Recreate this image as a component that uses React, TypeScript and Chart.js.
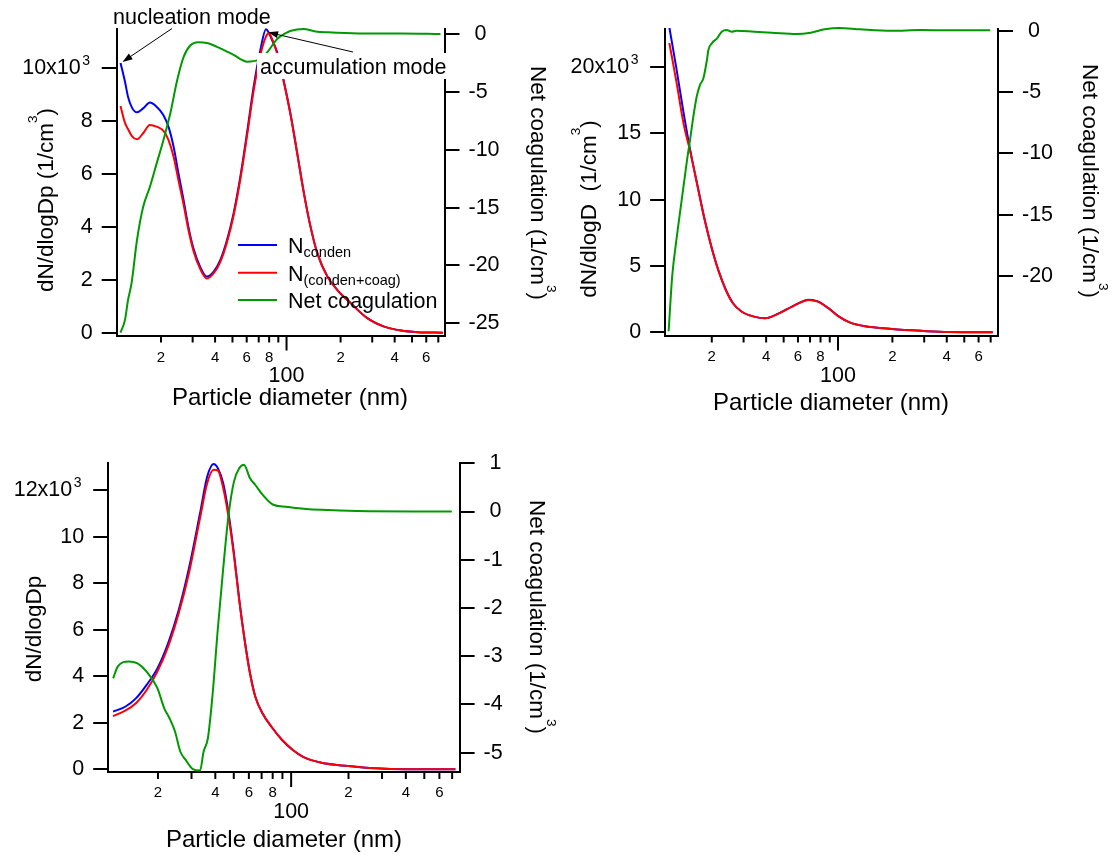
import React, { useEffect, useRef } from 'react';
import { Chart, registerables } from 'chart.js';

Chart.register(...registerables);

const FONT = '"Liberation Sans", Arial, Helvetica, sans-serif';
const BLUE = '#0000ff';
const RED = '#ff0000';
const GREEN = '#009900';
const TICK_FONT = 21.5;
const SMALL_FONT = 15;
const SUP_FONT = 14;
const YTITLE_FONT = 22.5;
const XTITLE_FONT = 24;
const SUP_PAD = '\u00a0\u00a0';

// ---------- shared x axis ticks ----------
const X_TICKS = [20, 30, 40, 50, 60, 70, 80, 90, 100, 200, 300, 400, 500, 600, 700];
const X_TICK_LABELS = ['2', '', '4', '', '6', '', '8', '', '100', '2', '', '4', '', '6', ''];

// ---------- panel 1 ----------
const P1_DIAM = [11.9, 12.6, 13.1, 13.8, 14.7, 15.9, 17.35, 18.9, 20.6, 22.0, 23.5, 25.0, 26.7, 28.4, 30.3, 33.0, 36.0, 39.3, 42.8, 46.6, 50.7, 55.3, 60.2, 65.6, 71.5, 76.9, 79.5, 83.2, 88.7, 96.6, 105.3, 114.7, 125, 136, 148.5, 169, 192, 228, 283, 350, 434, 538, 742];
const P1_CONDEN = [10200, 9490, 8920, 8500, 8330, 8480, 8700, 8540, 8230, 7790, 7030, 6030, 5020, 4010, 3190, 2500, 2120, 2310, 2750, 3500, 4510, 5900, 7540, 9300, 10690, 11470, 11350, 11050, 10600, 9500, 8250, 6780, 5270, 4010, 3000, 2120, 1610, 1110, 540, 230, 80, 20, 0];
const P1_CONDEN_COAG = [8570, 7930, 7700, 7420, 7310, 7540, 7850, 7790, 7640, 7290, 6650, 5770, 4850, 3900, 3100, 2420, 2050, 2250, 2680, 3420, 4420, 5800, 7420, 9150, 10500, 11200, 11320, 11100, 10550, 9480, 8250, 6780, 5270, 4010, 3000, 2120, 1610, 1110, 540, 230, 80, 20, 0];
const P1_NET_DIAM = [11.9, 12.6, 13.1, 13.7, 14.7, 15.9, 17.35, 18.9, 20.6, 22.5, 24.6, 26.7, 29.1, 32.2, 36, 42.8, 50.7, 60.2, 70, 78, 88.7, 98.5, 106, 124, 145, 170, 252, 434, 720];
const P1_NET = [-25.8, -24.7, -23.0, -21.55, -17.8, -14.95, -13.2, -11.2, -9.2, -6.9, -4.0, -2.0, -1.0, -0.72, -0.78, -1.24, -1.81, -2.39, -2.24, -1.59, -0.43, 0.05, 0.28, 0.43, 0.22, 0.14, 0.05, 0.05, 0.0];
const P1_LEFT_TICKS = [0, 2000, 4000, 6000, 8000, 10000];
const P1_LEFT_LABELS = ['0', '2', '4', '6', '8', '10x10' + SUP_PAD];
const P1_RIGHT_TICKS = [-25, -20, -15, -10, -5, 0];
const P1_RIGHT_LABELS = ['-25', '-20', '-15', '-10', '-5', '\u00a00'];

// ---------- panel 2 ----------
const P2_DIAM = [11.64, 12.74, 13.94, 15.26, 16.7, 18.27, 20.0, 21.88, 23.94, 26.2, 29.33, 34.34, 39.29, 47.08, 56.34, 69.0, 77.25, 88.42, 101.2, 115.9, 138.7, 199, 298.5, 409, 718.8];
const P2_CONDEN = [23000, 19900, 16600, 13600, 11000, 8480, 6340, 4570, 3190, 2190, 1550, 1180, 1060, 1430, 1980, 2460, 2330, 1820, 1180, 750, 480, 250, 100, 20, 0];
const P2_CONDEN_COAG = [21810, 18900, 15770, 13510, 10990, 8480, 6340, 4570, 3190, 2190, 1550, 1180, 1060, 1430, 1980, 2440, 2310, 1810, 1180, 750, 480, 250, 100, 20, 0];
const P2_NET_DIAM = [11.54, 12.07, 12.74, 13.63, 14.59, 15.16, 15.81, 16.5, 17.19, 17.97, 18.8, 19.15, 20.0, 21.4, 22.7, 24.2, 25.8, 27.4, 34.3, 43.0, 58.9, 70.6, 84.5, 101.2, 132.7, 199, 285, 409, 696];
const P2_NET = [-24.5, -20.05, -17.06, -13.8, -10.54, -8.9, -7.0, -5.38, -4.43, -3.88, -2.39, -1.57, -1.03, -0.62, -0.08, 0.06, -0.08, 0.0, -0.08, -0.16, -0.27, -0.16, 0.11, 0.22, 0.11, 0.0, 0.05, 0.03, 0.03];
const P2_LEFT_TICKS = [0, 5000, 10000, 15000, 20000];
const P2_LEFT_LABELS = ['0', '5', '10', '15', '20x10' + SUP_PAD];
const P2_RIGHT_TICKS = [-20, -15, -10, -5, 0];
const P2_RIGHT_LABELS = ['-20', '-15', '-10', '-5', '\u00a00'];

// ---------- panel 3 ----------
const P3_DIAM = [11.63, 13.46, 15.32, 17.44, 19.86, 22.6, 25.7, 29.2, 33.25, 36.25, 39.17, 41.25, 44.0, 46.95, 50.1, 53.45, 57.03, 60.84, 64.9, 70.76, 78.84, 89.7, 102.1, 116.3, 144.3, 199.4, 275.7, 399.6, 728];
const P3_CONDEN = [2480, 2690, 3050, 3630, 4340, 5420, 6850, 8710, 11010, 12580, 13130, 12950, 12300, 11010, 9290, 7280, 5560, 4130, 3120, 2410, 1830, 1260, 830, 520, 280, 140, 40, 0, 0];
const P3_CONDEN_COAG = [2290, 2520, 2840, 3410, 4200, 5270, 6710, 8500, 10800, 12300, 12880, 12850, 12100, 10850, 9200, 7250, 5540, 4120, 3110, 2400, 1830, 1260, 830, 520, 280, 140, 40, 0, 0];
const P3_NET_DIAM = [11.63, 12.32, 14.02, 15.62, 17.44, 19.86, 21.58, 23.03, 24.57, 26.22, 27.97, 30.47, 33.25, 34.7, 36.56, 38.68, 41.25, 44.0, 46.95, 50.1, 53.45, 56.53, 60.84, 64.9, 70.76, 80.56, 93.7, 116.3, 144.3, 222, 697];
const P3_NET = [-3.46, -3.21, -3.11, -3.15, -3.32, -3.66, -4.08, -4.29, -4.56, -4.98, -5.15, -5.34, -5.37, -4.98, -4.7, -3.8, -2.42, -1.18, -0.07, 0.62, 0.9, 0.97, 0.69, 0.55, 0.35, 0.14, 0.1, 0.06, 0.035, 0.01, 0.0];
const P3_LEFT_TICKS = [0, 2000, 4000, 6000, 8000, 10000, 12000];
const P3_LEFT_LABELS = ['0', '2', '4', '6', '8', '10', '12x10' + SUP_PAD];
const P3_RIGHT_TICKS = [-5, -4, -3, -2, -1, 0, 1];
const P3_RIGHT_LABELS = ['-5', '-4', '-3', '-2', '-1', '\u00a00', '\u00a01'];

type Series = { d: number[]; v: number[]; color: string; axis: 'y' | 'y2'; order: number; clipTop?: number };
type Part = { t: string; size: number; dy?: number };

interface PanelSpec {
  canvas: { left: number; top: number; width: number; height: number };
  area: { left: number; right: number; top: number; bottom: number };
  xRange: [number, number];
  yRange: [number, number];
  y2Range: [number, number];
  yTicks: number[];
  yLabels: string[];
  ySupTick: number;
  y2Ticks: number[];
  y2Labels: string[];
  series: Series[];
  yTitle: { prefix: string; unit: boolean; x: number; y: number };
  y2Title: { x: number; y: number };
  xTitle: { x: number; y: number };
  smallDy: number;
  bigDy: number;
  legend?: boolean;
  annotations?: boolean;
}

const PANELS: PanelSpec[] = [
  {
    canvas: { left: 0, top: 0, width: 560, height: 430 },
    area: { left: 116.7, right: 444.5, top: 29, bottom: 335.5 },
    xRange: [11.33, 758],
    yRange: [-106, 11482],
    y2Range: [-26.05, 0.43],
    yTicks: P1_LEFT_TICKS,
    yLabels: P1_LEFT_LABELS,
    ySupTick: 10000,
    y2Ticks: P1_RIGHT_TICKS,
    y2Labels: P1_RIGHT_LABELS,
    series: [
      { d: P1_DIAM, v: P1_CONDEN, color: BLUE, axis: 'y', order: 2 },
      { d: P1_DIAM, v: P1_CONDEN_COAG, color: RED, axis: 'y', order: 1 },
      { d: P1_NET_DIAM, v: P1_NET, color: GREEN, axis: 'y2', order: 0, clipTop: 4 },
    ],
    yTitle: { prefix: 'dN/dlogDp (1/cm', unit: true, x: 45, y: 200 },
    y2Title: { x: 539, y: 183 },
    xTitle: { x: 290, y: 398 },
    smallDy: 22,
    bigDy: 41,
    legend: true,
    annotations: true,
  },
  {
    canvas: { left: 560, top: 0, width: 554, height: 430 },
    area: { left: 105.1, right: 438, top: 29, bottom: 335.5 },
    xRange: [11.03, 768.6],
    yRange: [-241, 22865],
    y2Range: [-24.85, 0.139],
    yTicks: P2_LEFT_TICKS,
    yLabels: P2_LEFT_LABELS,
    ySupTick: 20000,
    y2Ticks: P2_RIGHT_TICKS,
    y2Labels: P2_RIGHT_LABELS,
    series: [
      { d: P2_DIAM, v: P2_CONDEN, color: BLUE, axis: 'y', order: 2 },
      { d: P2_DIAM, v: P2_CONDEN_COAG, color: RED, axis: 'y', order: 1 },
      { d: P2_NET_DIAM, v: P2_NET, color: GREEN, axis: 'y2', order: 0, clipTop: 4 },
    ],
    yTitle: { prefix: 'dN/dlogD  (1/cm', unit: true, x: 28, y: 209 },
    y2Title: { x: 531, y: 181 },
    xTitle: { x: 271, y: 403 },
    smallDy: 21.5,
    bigDy: 41,
  },
  {
    canvas: { left: 0, top: 430, width: 560, height: 425 },
    area: { left: 108.2, right: 459.6, top: 33.3, bottom: 342 },
    xRange: [10.96, 766],
    yRange: [-116, 13160],
    y2Range: [-5.4, 1.0],
    yTicks: P3_LEFT_TICKS,
    yLabels: P3_LEFT_LABELS,
    ySupTick: 12000,
    y2Ticks: P3_RIGHT_TICKS,
    y2Labels: P3_RIGHT_LABELS,
    series: [
      { d: P3_DIAM, v: P3_CONDEN, color: BLUE, axis: 'y', order: 2 },
      { d: P3_DIAM, v: P3_CONDEN_COAG, color: RED, axis: 'y', order: 1 },
      { d: P3_NET_DIAM, v: P3_NET, color: GREEN, axis: 'y2', order: 0, clipTop: 4 },
    ],
    yTitle: { prefix: 'dN/dlogDp', unit: false, x: 33, y: 199 },
    y2Title: { x: 538.4, y: 187 },
    xTitle: { x: 284, y: 410 },
    smallDy: 21,
    bigDy: 40,
  },
];

// legend layout (panel 1)
const LEGEND = {
  x0: 238,
  x1: 277,
  tx: 288,
  items: [
    { color: BLUE, main: 'N', sub: 'conden', lineY: 245, base: 253 },
    { color: RED, main: 'N', sub: '(conden+coag)', lineY: 272.7, base: 281 },
    { color: GREEN, main: 'Net coagulation', sub: '', lineY: 300, base: 308 },
  ],
};

function richWidth(ctx: CanvasRenderingContext2D, parts: Part[]) {
  let w = 0;
  for (const p of parts) {
    ctx.font = `${p.size}px ${FONT}`;
    w += ctx.measureText(p.t).width;
  }
  return w;
}

function drawRich(ctx: CanvasRenderingContext2D, parts: Part[], x: number, y: number, align: 'left' | 'center') {
  let cx = align === 'center' ? x - richWidth(ctx, parts) / 2 : x;
  ctx.textAlign = 'left';
  ctx.textBaseline = 'alphabetic';
  for (const p of parts) {
    ctx.font = `${p.size}px ${FONT}`;
    ctx.fillText(p.t, cx, y + (p.dy || 0));
    cx += ctx.measureText(p.t).width;
  }
}

function unitParts(prefix: string, size: number): Part[] {
  return [
    { t: prefix, size },
    { t: '3', size: size * 0.6, dy: -size * 0.72 },
    { t: ')', size },
  ];
}

function drawRotated(ctx: CanvasRenderingContext2D, parts: Part[], cx: number, cy: number, angle: number, size: number) {
  ctx.save();
  ctx.translate(cx, cy);
  ctx.rotate(angle);
  drawRich(ctx, parts, 0, size * 0.36, 'center');
  ctx.restore();
}

function arrow(ctx: CanvasRenderingContext2D, x0: number, y0: number, x1: number, y1: number) {
  const a = Math.atan2(y1 - y0, x1 - x0);
  const L = 10;
  const W = 3.5;
  ctx.lineWidth = 1;
  ctx.strokeStyle = '#000';
  ctx.fillStyle = '#000';
  ctx.beginPath();
  ctx.moveTo(x0, y0);
  ctx.lineTo(x1 - Math.cos(a) * L * 0.8, y1 - Math.sin(a) * L * 0.8);
  ctx.stroke();
  ctx.beginPath();
  ctx.moveTo(x1, y1);
  ctx.lineTo(x1 - L * Math.cos(a) + W * Math.sin(a), y1 - L * Math.sin(a) - W * Math.cos(a));
  ctx.lineTo(x1 - L * Math.cos(a) - W * Math.sin(a), y1 - L * Math.sin(a) + W * Math.cos(a));
  ctx.closePath();
  ctx.fill();
}

function decorPlugin(spec: PanelSpec) {
  return {
    id: 'decor',
    afterDraw(chart: any) {
      const ctx: CanvasRenderingContext2D = chart.ctx;
      const xs = chart.scales.x;
      const ys = chart.scales.y;
      const area = chart.chartArea;
      ctx.save();
      ctx.fillStyle = '#000';
      ctx.strokeStyle = '#000';
      ctx.lineWidth = 2;
      X_TICKS.forEach((v, i) => {
        const px = xs.getPixelForValue(v);
        const len = v === 100 ? 15 : 7;
        ctx.beginPath();
        ctx.moveTo(px, area.bottom);
        ctx.lineTo(px, area.bottom + len);
        ctx.stroke();
        const lab = X_TICK_LABELS[i];
        if (!lab) return;
        ctx.textAlign = 'center';
        ctx.textBaseline = 'middle';
        if (v === 100) {
          ctx.font = `${TICK_FONT}px ${FONT}`;
          ctx.fillText(lab, px, area.bottom + spec.bigDy);
        } else {
          ctx.font = `${SMALL_FONT}px ${FONT}`;
          ctx.fillText(lab, px, area.bottom + spec.smallDy);
        }
      });

      // superscript exponent of the top left tick label ("x10" + superscript 3)
      ctx.font = `${TICK_FONT}px ${FONT}`;
      const padW = ctx.measureText(SUP_PAD).width;
      const supY = ys.getPixelForValue(spec.ySupTick);
      ctx.font = `${SUP_FONT}px ${FONT}`;
      ctx.textAlign = 'left';
      ctx.textBaseline = 'alphabetic';
      ctx.fillText('3', area.left - 15 - 9 - padW + 1.5, supY - 3);

      // x title
      ctx.font = `${XTITLE_FONT}px ${FONT}`;
      ctx.textAlign = 'center';
      ctx.textBaseline = 'middle';
      ctx.fillText('Particle diameter (nm)', spec.xTitle.x, spec.xTitle.y);
      // y titles
      const yParts: Part[] = spec.yTitle.unit
        ? unitParts(spec.yTitle.prefix, YTITLE_FONT)
        : [{ t: spec.yTitle.prefix, size: YTITLE_FONT }];
      drawRotated(ctx, yParts, spec.yTitle.x, spec.yTitle.y, -Math.PI / 2, YTITLE_FONT);
      drawRotated(ctx, unitParts('Net coagulation (1/cm', YTITLE_FONT), spec.y2Title.x, spec.y2Title.y, Math.PI / 2, YTITLE_FONT);

      if (spec.legend) {
        LEGEND.items.forEach((it) => {
          ctx.strokeStyle = it.color;
          ctx.lineWidth = 2;
          ctx.beginPath();
          ctx.moveTo(LEGEND.x0, it.lineY);
          ctx.lineTo(LEGEND.x1, it.lineY);
          ctx.stroke();
          ctx.fillStyle = '#000';
          const parts: Part[] = [{ t: it.main, size: TICK_FONT }];
          if (it.sub) parts.push({ t: it.sub, size: 14.5, dy: 4 });
          drawRich(ctx, parts, LEGEND.tx, it.base, 'left');
        });
      }

      if (spec.annotations) {
        ctx.fillStyle = '#fff';
        ctx.fillRect(257, 53, 195, 26);
        ctx.fillStyle = '#000';
        ctx.font = `${TICK_FONT}px ${FONT}`;
        ctx.textAlign = 'left';
        ctx.textBaseline = 'alphabetic';
        ctx.fillText('nucleation mode', 113, 23.5);
        ctx.fillText('accumulation mode', 260, 73.5);
        const nx = xs.getPixelForValue(P1_DIAM[0]);
        const ny = ys.getPixelForValue(P1_CONDEN[0]);
        arrow(ctx, 172, 28.5, nx + 2, ny - 1);
        const pk = P1_CONDEN.indexOf(Math.max(...P1_CONDEN));
        const px = xs.getPixelForValue(P1_DIAM[pk]);
        const py = ys.getPixelForValue(P1_CONDEN[pk]);
        arrow(ctx, 353, 52, px + 2, py + 3);
      }
      ctx.restore();
    },
  };
}

function yAxis(position: 'left' | 'right', range: [number, number], ticks: number[], labels: string[], width: () => number) {
  return {
    type: 'linear',
    position,
    min: range[0],
    max: range[1],
    afterBuildTicks: (s: any) => {
      s.ticks = ticks.map((v) => ({ value: v }));
    },
    afterFit: (s: any) => {
      s.width = width();
    },
    ticks: {
      callback: (_v: any, i: number) => labels[i],
      font: { family: FONT, size: TICK_FONT },
      color: '#000',
      padding: 9,
      autoSkip: false,
      maxRotation: 0,
    },
    grid: {
      drawOnChartArea: false,
      drawTicks: true,
      tickLength: 15,
      tickWidth: 2,
      tickColor: '#000',
      color: '#000',
      lineWidth: 2,
    },
    border: { display: true, color: '#000', width: 2 },
  };
}

function buildConfig(spec: PanelSpec): any {
  const c = spec.canvas;
  const a = spec.area;
  return {
    type: 'line',
    data: {
      datasets: spec.series.map((s) => ({
        data: s.d.map((d, i) => ({ x: d, y: s.v[i] })),
        borderColor: s.color,
        backgroundColor: s.color,
        borderWidth: 2,
        pointRadius: 0,
        pointHoverRadius: 0,
        fill: false,
        cubicInterpolationMode: 'monotone',
        xAxisID: 'x',
        yAxisID: s.axis,
        order: s.order,
        clip: { left: 1, right: 1, bottom: 1, top: s.clipTop ?? 1 },
      })),
    },
    options: {
      responsive: false,
      animation: false,
      events: [],
      layout: { padding: { top: a.top, left: 0, right: 0, bottom: 0 } },
      plugins: {
        legend: { display: false },
        tooltip: { enabled: false },
        title: { display: false },
      },
      scales: {
        x: {
          type: 'logarithmic',
          position: 'bottom',
          min: spec.xRange[0],
          max: spec.xRange[1],
          afterFit: (s: any) => {
            s.height = c.height - a.bottom;
          },
          ticks: { display: false },
          grid: { display: false, drawTicks: false },
          border: { display: true, color: '#000', width: 2 },
        },
        y: yAxis('left', spec.yRange, spec.yTicks, spec.yLabels, () => a.left),
        y2: yAxis('right', spec.y2Range, spec.y2Ticks, spec.y2Labels, () => c.width - a.right),
      },
    },
    plugins: [decorPlugin(spec)],
  };
}

function Panel({ spec }: { spec: PanelSpec }) {
  const ref = useRef<HTMLCanvasElement | null>(null);
  useEffect(() => {
    const canvas = ref.current;
    if (!canvas) return;
    const chart = new Chart(canvas, buildConfig(spec));
    return () => chart.destroy();
  }, [spec]);
  const c = spec.canvas;
  return (
    <canvas
      ref={ref}
      width={c.width}
      height={c.height}
      style={{ position: 'absolute', left: c.left, top: c.top, width: c.width, height: c.height }}
    />
  );
}

export default function App() {
  return (
    <div style={{ position: 'fixed', left: 0, top: 0, width: 1114, height: 855, background: '#fff', overflow: 'hidden' }}>
      {PANELS.map((p, i) => (
        <Panel key={i} spec={p} />
      ))}
    </div>
  );
}
